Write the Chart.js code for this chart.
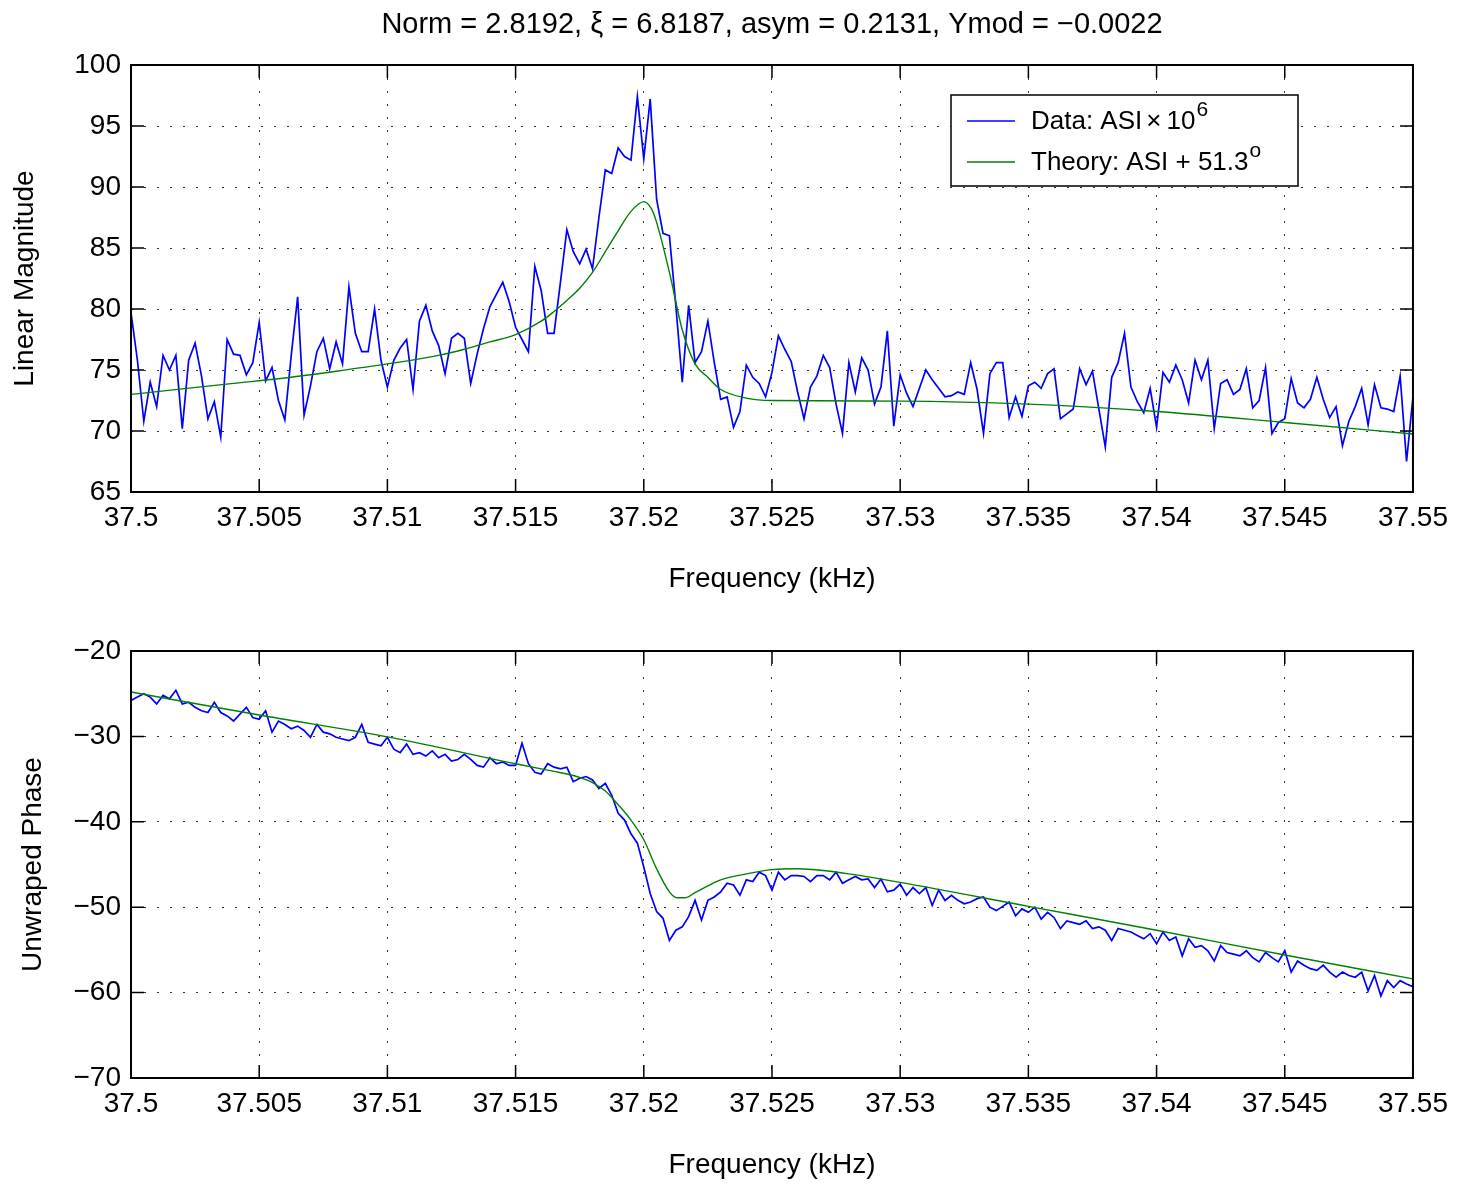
<!DOCTYPE html>
<html>
<head>
<meta charset="utf-8">
<title>ASI magnitude / phase fit</title>
<script src="https://cdn.jsdelivr.net/npm/chart.js@4.4.1/dist/chart.umd.min.js"></script>
<style>
  html, body { margin: 0; padding: 0; background: #fff; }
  #wrap { position: relative; width: 1457px; height: 1185px; }
  canvas { position: absolute; left: 0; }
  #magChart { top: 0; }
  #phaseChart { top: 600px; }
</style>
</head>
<body>
<div id="wrap">
  <canvas id="magChart" width="1457" height="600"></canvas>
  <canvas id="phaseChart" width="1457" height="585"></canvas>
</div>
<script>
"use strict";

// ── Data ────────────────────────────────────────────────────────────────
const TITLE = "Norm = 2.8192, \u03BE = 6.8187, asym = 0.2131, Ymod = \u22120.0022";

const FREQ_START = 37.5;      // kHz, first sample
const FREQ_STEP  = 0.00025;   // kHz between samples

const FREQ_TICKS  = [37.5, 37.505, 37.51, 37.515, 37.52, 37.525, 37.53, 37.535, 37.54, 37.545, 37.55];
const MAG_TICKS   = [65, 70, 75, 80, 85, 90, 95, 100];
const PHASE_TICKS = [-70, -60, -50, -40, -30, -20];

// measured magnitude (ASI x 1e6)
const magData = [
  79.7, 75.8, 70.8, 74.0, 72.0, 76.2, 75.0, 76.2, 70.2, 75.8,
  77.2, 74.5, 71.0, 72.4, 69.5, 77.5, 76.3, 76.2, 74.6, 75.6,
  78.9, 74.1, 75.2, 72.5, 70.9, 76.2, 81.0, 71.3, 73.7, 76.5,
  77.6, 75.1, 77.3, 75.5, 81.8, 78.0, 76.5, 76.5, 80.0, 75.8,
  73.6, 75.8, 76.8, 77.5, 73.4, 79.0, 80.3, 78.2, 77.0, 74.7,
  77.6, 78.0, 77.6, 73.9, 76.3, 78.4, 80.2, 81.2, 82.2, 80.6,
  78.5, 77.5, 76.5, 83.5, 81.5, 78.0, 78.0, 82.2, 86.5, 84.7,
  83.7, 84.9, 83.3, 87.5, 91.4, 91.1, 93.2, 92.5, 92.2, 97.4,
  92.3, 97.2, 89.0, 86.2, 86.0, 80.3, 74.0, 80.3, 75.6, 76.5,
  79.0, 75.6, 72.6, 72.8, 70.3, 71.6, 75.4, 74.4, 73.9, 72.8,
  74.8, 77.8, 76.7, 75.7, 73.2, 71.0, 73.6, 74.5, 76.2, 75.2,
  72.2, 69.8, 75.6, 73.2, 76.0, 75.0, 72.2, 73.6, 78.2, 70.4,
  74.6, 73.1, 72.0, 73.5, 75.0, 74.2, 73.5, 72.8, 72.9, 73.2,
  73.0, 75.6, 73.4, 69.8, 74.7, 75.6, 75.6, 71.1, 72.8, 71.2,
  73.7, 74.0, 73.5, 74.7, 75.1, 71.0, 71.4, 71.8, 75.1, 73.8,
  74.9, 71.8, 68.7, 74.4, 75.6, 78.0, 73.6, 72.4, 71.5, 73.5,
  70.3, 74.8, 74.0, 75.4, 74.2, 72.3, 75.8, 74.2, 75.8, 70.2,
  73.9, 74.2, 73.0, 73.4, 75.1, 71.9, 72.5, 75.2, 69.8, 70.7,
  71.0, 74.3, 72.3, 71.9, 72.6, 74.4, 72.6, 71.1, 72.0, 68.8,
  70.8, 72.0, 73.5, 70.5, 73.8, 71.9, 71.8, 71.6, 74.5, 67.5,
  72.8
];

// measured unwrapped phase (deg)
const phaseData = [
  -25.8, -25.4, -25.0, -25.4, -26.2, -25.2, -25.6, -24.6, -26.2, -26.0,
  -26.6, -27.0, -27.2, -26.0, -27.2, -27.6, -28.2, -27.4, -26.6, -27.8,
  -28.0, -27.0, -29.5, -28.2, -28.6, -29.1, -28.8, -29.3, -30.1, -28.6,
  -29.5, -29.7, -30.1, -30.3, -30.5, -30.1, -28.6, -30.7, -30.9, -31.1,
  -30.1, -31.5, -31.9, -30.9, -32.1, -31.9, -32.3, -31.7, -32.5, -32.1,
  -32.9, -32.7, -32.1, -32.7, -33.4, -33.6, -32.5, -33.2, -33.0, -33.4,
  -33.4, -30.8, -33.2, -34.2, -34.4, -33.2, -33.6, -33.8, -33.6, -35.3,
  -34.9, -34.7, -35.1, -36.1, -35.5, -36.9, -39.0, -39.8, -41.4, -42.5,
  -45.3, -48.4, -50.5, -51.3, -53.9, -52.7, -52.3, -51.1, -49.2, -51.5,
  -49.2, -48.8, -48.2, -47.2, -47.4, -48.6, -46.8, -47.0, -45.9, -46.3,
  -48.0, -45.9, -46.8, -46.3, -46.3, -46.4, -47.0, -46.3, -46.3, -46.8,
  -45.9, -47.2, -46.8, -46.4, -46.8, -46.7, -47.7, -46.7, -48.2, -48.0,
  -47.3, -48.6, -47.7, -48.4, -47.7, -49.8, -48.0, -49.2, -48.6, -49.2,
  -49.6, -49.4, -49.0, -48.8, -50.0, -50.4, -49.9, -49.4, -51.0, -50.2,
  -50.6, -50.0, -51.4, -50.6, -51.2, -52.5, -51.6, -51.8, -52.0, -51.6,
  -52.5, -52.3, -52.7, -53.9, -52.5, -52.7, -52.9, -53.3, -53.7, -53.1,
  -54.3, -52.9, -53.9, -53.5, -55.7, -53.7, -54.7, -54.5, -55.1, -56.3,
  -54.5, -55.3, -55.5, -55.7, -55.1, -55.9, -56.4, -55.3, -55.9, -56.4,
  -55.1, -57.6, -56.3, -56.8, -57.2, -57.4, -56.8, -57.6, -58.2, -57.6,
  -58.0, -58.2, -57.6, -59.8, -58.0, -60.4, -58.6, -59.4, -58.6, -59.0,
  -59.3
];

// fitted theory curves
const theoryMagFreq = [
  37.5, 37.502, 37.504, 37.506, 37.508, 37.51, 37.512, 37.513, 37.514, 37.515,
  37.516, 37.5165, 37.517, 37.5175, 37.518, 37.5185, 37.519, 37.5195, 37.52, 37.5203,
  37.5205, 37.521, 37.5215, 37.522, 37.5225, 37.523, 37.524, 37.525, 37.53, 37.535,
  37.54, 37.545, 37.55
];
const theoryMag = [
  73.0, 73.45, 73.9, 74.35, 74.9, 75.5, 76.2, 76.7, 77.3, 77.9,
  79.0, 79.8, 80.7, 81.7, 83.0, 84.7, 86.4, 88.0, 88.8, 88.2,
  87.1, 83.0, 78.3, 75.5, 74.4, 73.4, 72.7, 72.5, 72.45, 72.2,
  71.6, 70.7, 69.75
];

const theoryPhaseFreq = [
  37.5, 37.505, 37.51, 37.515, 37.5165, 37.517, 37.5175, 37.518, 37.5185, 37.519,
  37.5195, 37.52, 37.5205, 37.521, 37.5213, 37.5216, 37.522, 37.5225, 37.523, 37.524,
  37.525, 37.526, 37.527, 37.528, 37.53, 37.535, 37.54, 37.545, 37.55
];
const theoryPhase = [
  -24.8, -27.5, -30.05, -33.2, -34.1, -34.4, -34.8, -35.4, -36.4, -38.0,
  -39.8, -42.1, -45.5, -48.2, -48.9, -48.9, -48.3, -47.5, -46.8, -46.1,
  -45.6, -45.5, -45.7, -46.1, -47.1, -49.9, -52.7, -55.6, -58.4
];

// ── Style ───────────────────────────────────────────────────────────────
const FONT    = "'Liberation Sans', Arial, Helvetica, sans-serif";
const BLUE    = "#0000ff";
const GREEN   = "#008000";
const GRID    = "rgba(0,0,0,0.8)";
const TICK_PX = 13;

Chart.defaults.font.family = FONT;
Chart.defaults.color = "#000";

// ── Helpers ─────────────────────────────────────────────────────────────
const sampleFreqs = n => Array.from({length: n}, (_, i) => +(FREQ_START + i * FREQ_STEP).toFixed(5));
const toPoints = (xs, ys) => ys.map((y, i) => ({x: xs[i], y}));
const minus = v => String(v).replace("-", "\u2212");

function xAxis(height, titlePadBottom) {
  return {
    type: "linear",
    min: FREQ_TICKS[0],
    max: FREQ_TICKS[FREQ_TICKS.length - 1],
    afterBuildTicks: s => { s.ticks = FREQ_TICKS.map(v => ({value: v})); },
    afterFit: s => { s.height = height; },
    ticks: { font: {size: 28}, color: "#000", padding: 9, maxRotation: 0, autoSkip: false,
             callback: v => String(v) },
    grid: { drawTicks: false, color: GRID, lineWidth: 1 },
    border: { display: false, dash: [2, 11] },
    title: { display: true, text: "Frequency (kHz)", font: {size: 28}, color: "#000",
             padding: {top: 0, bottom: titlePadBottom} },
  };
}

function yAxis(tickVals, label, titlePadTop) {
  return {
    type: "linear",
    min: tickVals[0],
    max: tickVals[tickVals.length - 1],
    afterBuildTicks: s => { s.ticks = tickVals.map(v => ({value: v})); },
    afterFit: s => { s.width = 131; },
    ticks: { font: {size: 28}, color: "#000", padding: 10, autoSkip: false, callback: minus },
    grid: { drawTicks: false, color: GRID, lineWidth: 1 },
    border: { display: false, dash: [2, 11] },
    title: { display: true, text: label, font: {size: 28}, color: "#000",
             padding: {top: titlePadTop, bottom: 0} },
  };
}

const lineSet = (label, data, color, order, smooth) => ({
  label, data, order,
  borderColor: color,
  backgroundColor: color,
  borderWidth: smooth ? 1.4 : 1.7,
  pointRadius: 0,
  fill: false,
  tension: 0,
  cubicInterpolationMode: smooth ? "monotone" : "default",
});

// box around the plot area with MATLAB-style inward ticks on all four sides
const axesBox = {
  id: "axesBox",
  afterDatasetsDraw(chart) {
    const {ctx, chartArea: a, scales: {x, y}} = chart;
    ctx.save();
    ctx.strokeStyle = "#000";
    ctx.lineWidth = 1.5;
    ctx.beginPath();
    x.ticks.forEach(t => {
      const px = x.getPixelForValue(t.value);
      ctx.moveTo(px, a.bottom); ctx.lineTo(px, a.bottom - TICK_PX);
      ctx.moveTo(px, a.top);    ctx.lineTo(px, a.top + TICK_PX);
    });
    y.ticks.forEach(t => {
      const py = y.getPixelForValue(t.value);
      ctx.moveTo(a.left, py);  ctx.lineTo(a.left + TICK_PX, py);
      ctx.moveTo(a.right, py); ctx.lineTo(a.right - TICK_PX, py);
    });
    ctx.stroke();
    ctx.lineWidth = 2;
    ctx.strokeRect(a.left, a.top, a.right - a.left, a.bottom - a.top);
    ctx.restore();
  }
};

// legend with superscripts, drawn as text pieces
const magLegend = {
  id: "magLegend",
  afterDraw(chart) {
    const {ctx} = chart;
    const bx = 951, by = 95, bw = 347, bh = 91;
    const rows = [
      { color: BLUE,  y: 122, parts: [["Data: ASI", 0, 4], ["\u00D7", 0, 5], ["10", 0, 1], ["6", 1, 0]] },
      { color: GREEN, y: 163, parts: [["Theory: ASI + 51.3", 0, 1], ["o", 1, 0]] },
    ];
    ctx.save();
    ctx.fillStyle = "#fff";
    ctx.fillRect(bx, by, bw, bh);
    ctx.strokeStyle = "#000";
    ctx.lineWidth = 1.5;
    ctx.strokeRect(bx, by, bw, bh);
    ctx.textBaseline = "middle";
    ctx.textAlign = "left";
    rows.forEach(r => {
      ctx.strokeStyle = r.color;
      ctx.lineWidth = 1.4;
      ctx.beginPath();
      ctx.moveTo(967, r.y - 1); ctx.lineTo(1015, r.y - 1);
      ctx.stroke();
      let tx = 1031;
      ctx.fillStyle = "#000";
      r.parts.forEach(([txt, sup, gap]) => {
        ctx.font = (sup ? "21px " : "26px ") + FONT;
        ctx.fillText(txt, tx, sup ? r.y - 12 : r.y);
        tx += ctx.measureText(txt).width + gap;
      });
    });
    ctx.restore();
  }
};

// ── Charts ──────────────────────────────────────────────────────────────
const freqs = sampleFreqs(magData.length);

new Chart(document.getElementById("magChart"), {
  type: "line",
  data: {
    datasets: [
      lineSet("Theory", toPoints(theoryMagFreq, theoryMag), GREEN, 0, true),
      lineSet("Data",   toPoints(freqs, magData),           BLUE,  1, false),
    ],
  },
  options: {
    responsive: false,
    animation: false,
    devicePixelRatio: 1,
    layout: { padding: {top: 0, left: 0, right: 42, bottom: 0} },
    plugins: {
      legend: { display: false },
      tooltip: { enabled: false },
      title: {
        display: true, text: TITLE, fullSize: false, color: "#000",
        font: {size: 29, weight: "normal"},
        padding: {top: 7.6, bottom: 22.6},
      },
    },
    scales: {
      x: xAxis(108, 4.2),
      y: yAxis(MAG_TICKS, "Linear Magnitude", 8.2),
    },
  },
  plugins: [axesBox, magLegend],
});

new Chart(document.getElementById("phaseChart"), {
  type: "line",
  data: {
    datasets: [
      lineSet("Theory", toPoints(theoryPhaseFreq, theoryPhase), GREEN, 0, true),
      lineSet("Data",   toPoints(freqs, phaseData),             BLUE,  1, false),
    ],
  },
  options: {
    responsive: false,
    animation: false,
    devicePixelRatio: 1,
    layout: { padding: {top: 51, left: 0, right: 42, bottom: 0} },
    plugins: {
      legend: { display: false },
      tooltip: { enabled: false },
    },
    scales: {
      x: xAxis(107, 3.2),
      y: yAxis(PHASE_TICKS, "Unwraped Phase", 16.2),
    },
  },
  plugins: [axesBox],
});
</script>
</body>
</html>
